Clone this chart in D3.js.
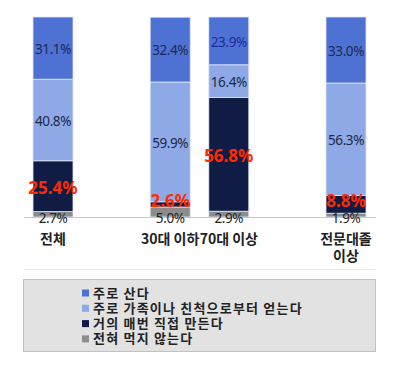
<!DOCTYPE html>
<html>
<head>
<meta charset="utf-8">
<script src="https://cdn.jsdelivr.net/npm/d3@7"></script>
<style>
    body { margin: 0; background: #fff; }
    svg { display: block; }
</style>
</head>
<body>
<div class="container"></div>
<script>
const width = 400,
    height = 367;

// categories (spacers keep the uneven gaps between groups)
const categories = ["전체", "30대 이하", "70대 이상", "전문대졸 이상"];
const slots = ["전체", "gap1", "30대 이하", "70대 이상", "gap2", "전문대졸 이상"];

// series, bottom to top of each stack
const seriesNames = ["전혀 먹지 않는다", "거의 매번 직접 만든다", "주로 가족이나 친척으로부터 얻는다", "주로 산다"];
const neverEat = [2.7, 5.0, 2.9, 1.9];
const cookSelf = [25.4, 2.6, 56.8, 8.8];
const fromFamily = [40.8, 59.9, 16.4, 56.3];
const mostlyBuy = [31.1, 32.4, 23.9, 33.0];

const legendOrder = ["주로 산다", "주로 가족이나 친척으로부터 얻는다", "거의 매번 직접 만든다", "전혀 먹지 않는다"];

const colors = {
    "주로 산다": "#4e72d4",
    "주로 가족이나 친척으로부터 얻는다": "#8ea9e5",
    "거의 매번 직접 만든다": "#111c44",
    "전혀 먹지 않는다": "#8c8c8c"
};

const labelColors = {
    "주로 산다": "#1c2858",
    "주로 가족이나 친척으로부터 얻는다": "#1c2848",
    "거의 매번 직접 만든다": "#ff2a00",
    "전혀 먹지 않는다": "#222"
};

const table = categories.map((c, i) => ({
    category: c,
    "전혀 먹지 않는다": neverEat[i],
    "거의 매번 직접 만든다": cookSelf[i],
    "주로 가족이나 친척으로부터 얻는다": fromFamily[i],
    "주로 산다": mostlyBuy[i]
}));

const stacked = d3.stack().keys(seriesNames)(table);

const svg = d3.select(".container")
    .append("svg")
    .attr("width", width)
    .attr("height", height);

// SCALES
const xScale = d3.scalePoint()
    .domain(slots)
    .range([53, 346]);

const yScale = d3.scaleLinear()
    .domain([0, 100])
    .range([217, 17]);

const barWidth = 40;

// faint frame line under category labels
svg.append("line")
    .attr("x1", 24).attr("x2", 376)
    .attr("y1", 269.5).attr("y2", 269.5)
    .attr("stroke", "#e8e8e8");

// BARS
const layers = svg.selectAll("g.layer")
    .data(stacked)
    .enter()
    .append("g")
    .attr("class", "layer")
    .attr("fill", d => colors[d.key]);

layers.selectAll("rect")
    .data(d => d)
    .enter()
    .append("rect")
    .attr("x", d => xScale(d.data.category) - barWidth / 2)
    .attr("width", barWidth)
    .attr("y", d => yScale(d[1]))
    .attr("height", d => yScale(d[0]) - yScale(d[1]))
    .attr("stroke", "#dfe6f6")
    .attr("stroke-width", 0.8);

// baseline
svg.append("line")
    .attr("x1", 24).attr("x2", 376)
    .attr("y1", 217.5).attr("y2", 217.5)
    .attr("stroke", "#c8c8c8");

// VALUE LABELS
const fmt = d3.format(".1f");

stacked.forEach(layer => {
    const isRed = layer.key === "거의 매번 직접 만든다";
    const isBottom = layer.key === "전혀 먹지 않는다";
    svg.append("g")
        .selectAll("text")
        .data(layer)
        .enter()
        .append("text")
        .attr("x", d => xScale(d.data.category))
        .attr("y", d => {
            const mid = (yScale(d[0]) + yScale(d[1])) / 2;
            if (isBottom) return yScale(0) + 1;
            if (isRed) return Math.min(mid, yScale(0) - 18) + 2;
            return mid + 1;
        })
        .attr("dy", "0.35em")
        .attr("text-anchor", "middle")
        .attr("font-family", "'Noto Sans', sans-serif")
        .attr("font-size", isRed ? 17 : 13.5)
        .attr("font-weight", isRed ? "bold" : "normal")
        .attr("letter-spacing", isRed ? 0 : -0.4)
        .attr("fill", (d, i) => (layer.key === "주로 산다" && i === 2) ? "#1a2aa0" : labelColors[layer.key])
        .text(d => fmt(d[1] - d[0]) + "%");
});

// CATEGORY LABELS
svg.append("g")
    .selectAll("text")
    .data(categories)
    .enter()
    .append("text")
    .attr("x", d => xScale(d))
    .attr("y", 239)
    .attr("text-anchor", "middle")
    .attr("font-family", "'Noto Sans CJK KR', sans-serif")
    .attr("font-size", 14)
    .attr("font-weight", "bold")
    .attr("fill", "#222")
    .each(function(d) {
        const parts = d === "전문대졸 이상" ? ["전문대졸", "이상"] : [d];
        d3.select(this).selectAll("tspan")
            .data(parts)
            .enter()
            .append("tspan")
            .attr("x", xScale(d))
            .attr("dy", (p, i) => i === 0 ? "0.35em" : "1.25em")
            .text(p => p);
    });

// LEGEND
const legend = svg.append("g");

legend.append("rect")
    .attr("x", 23.5).attr("y", 279.5)
    .attr("width", 352).attr("height", 72)
    .attr("fill", "#e2e2e2")
    .attr("stroke", "#c2c2c2");

const items = legend.selectAll("g.item")
    .data(legendOrder)
    .enter()
    .append("g")
    .attr("class", "item")
    .attr("transform", (d, i) => `translate(82, ${293 + i * 15.3})`);

items.append("rect")
    .attr("x", 0).attr("y", -3.5)
    .attr("width", 7).attr("height", 7)
    .attr("fill", d => colors[d]);

items.append("text")
    .attr("x", 11)
    .attr("dy", "0.35em")
    .attr("font-family", "'Noto Sans CJK KR', sans-serif")
    .attr("font-size", 13)
    .attr("font-weight", "bold")
    .attr("letter-spacing", 1.2)
    .attr("fill", "#222")
    .text(d => d);
</script>
</body>
</html>
